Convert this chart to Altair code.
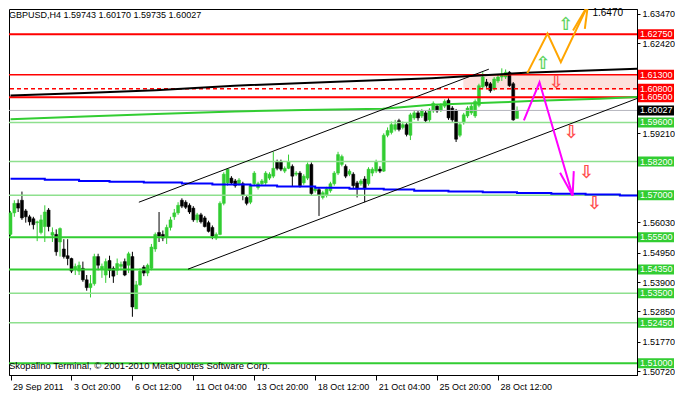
import altair as alt
import pandas as pd

# ---------------- data ----------------
opens = [
    1.5560, 1.5637, 1.5671, 1.5682, 1.5644, 1.5623, 1.5616, 1.5602, 1.5567, 1.5588,
    1.5647, 1.5557, 1.5560, 1.5533, 1.5508, 1.5484, 1.5474, 1.5436, 1.5429, 1.5439,
    1.5398, 1.5370, 1.5384, 1.5481, 1.5436, 1.5415, 1.5467, 1.5439, 1.5432, 1.5446,
    1.5463, 1.5450, 1.5481, 1.5294, 1.5380, 1.5443, 1.5422, 1.5439, 1.5508, 1.5567,
    1.5560, 1.5550, 1.5585, 1.5623, 1.5637, 1.5682, 1.5675, 1.5664, 1.5654, 1.5612,
    1.5630, 1.5619, 1.5602, 1.5585, 1.5547, 1.5560, 1.5671, 1.5744, 1.5761, 1.5751,
    1.5741, 1.5741, 1.5692, 1.5675, 1.5741, 1.5727, 1.5741, 1.5744, 1.5761, 1.5768,
    1.5820, 1.5820, 1.5786, 1.5796, 1.5803, 1.5775, 1.5779, 1.5744, 1.5761, 1.5810,
    1.5716, 1.5720, 1.5692, 1.5699, 1.5716, 1.5741, 1.5779, 1.5810, 1.5803, 1.5775,
    1.5775, 1.5744, 1.5741, 1.5758, 1.5741, 1.5779, 1.5786, 1.5793, 1.5786, 1.5914,
    1.5924, 1.5935, 1.5966, 1.5942, 1.5952, 1.5914, 1.5976, 1.5994, 1.5983, 1.5994,
    1.5969, 1.6001, 1.6018, 1.6004, 1.6018, 1.6039, 1.6011, 1.6001, 1.5914, 1.5959,
    1.5983, 1.5994, 1.5983, 1.6021, 1.6087, 1.6104, 1.6098, 1.6080, 1.6108, 1.6122,
    1.6122, 1.6139, 1.6098, 1.59743]
highs = [
    1.5644, 1.5682, 1.5685, 1.5713, 1.5651, 1.5630, 1.5623, 1.5609, 1.5630, 1.5664,
    1.5654, 1.5585, 1.5578, 1.5585, 1.5543, 1.5543, 1.5477, 1.5456, 1.5463, 1.5463,
    1.5415, 1.5415, 1.5491, 1.5491, 1.5456, 1.5474, 1.5484, 1.5446, 1.5474, 1.5463,
    1.5474, 1.5498, 1.5498, 1.5394, 1.5439, 1.5450, 1.5456, 1.5526, 1.5567, 1.5640,
    1.5574, 1.5595, 1.5623, 1.5651, 1.5675, 1.5689, 1.5682, 1.5671, 1.5661, 1.5637,
    1.5637, 1.5626, 1.5609, 1.5592, 1.5567, 1.5678, 1.5782, 1.5796, 1.5768, 1.5758,
    1.5761, 1.5748, 1.5699, 1.5741, 1.5786, 1.5748, 1.5758, 1.5786, 1.5782, 1.5855,
    1.5827, 1.5827, 1.5803, 1.5845, 1.5810, 1.5786, 1.5786, 1.5775, 1.5817, 1.5817,
    1.5730, 1.5727, 1.5716, 1.5730, 1.5748, 1.5786, 1.5855, 1.5845, 1.5810, 1.5793,
    1.5782, 1.5751, 1.5758, 1.5768, 1.5800, 1.5800, 1.5827, 1.5803, 1.5921, 1.5942,
    1.5963, 1.5969, 1.5973, 1.5963, 1.5959, 1.5994, 1.6004, 1.6001, 1.6008, 1.6001,
    1.6011, 1.6035, 1.6025, 1.6028, 1.6042, 1.6046, 1.6018, 1.6008, 1.5959, 1.5994,
    1.6018, 1.6025, 1.6042, 1.6098, 1.6139, 1.6115, 1.6104, 1.6122, 1.6129, 1.6153,
    1.6149, 1.6143, 1.6104, 1.60170]
lows = [
    1.5554, 1.5623, 1.5640, 1.5612, 1.5602, 1.5592, 1.5578, 1.5536, 1.5560, 1.5533,
    1.5571, 1.5533, 1.5484, 1.5481, 1.5474, 1.5450, 1.5422, 1.5415, 1.5415, 1.5391,
    1.5359, 1.5335, 1.5377, 1.5432, 1.5405, 1.5387, 1.5405, 1.5387, 1.5415, 1.5432,
    1.5411, 1.5422, 1.5266, 1.5294, 1.5377, 1.5411, 1.5411, 1.5432, 1.5498, 1.5533,
    1.5536, 1.5526, 1.5574, 1.5612, 1.5630, 1.5654, 1.5651, 1.5633, 1.5605, 1.5602,
    1.5599, 1.5585, 1.5567, 1.5543, 1.5540, 1.5557, 1.5664, 1.5734, 1.5737, 1.5727,
    1.5734, 1.5682, 1.5664, 1.5668, 1.5734, 1.5720, 1.5734, 1.5737, 1.5754, 1.5761,
    1.5789, 1.5786, 1.5779, 1.5793, 1.5730, 1.5768, 1.5727, 1.5737, 1.5754, 1.5699,
    1.5709, 1.5626, 1.5685, 1.5692, 1.5709, 1.5734, 1.5772, 1.5803, 1.5761, 1.5768,
    1.5723, 1.5692, 1.5734, 1.5675, 1.5734, 1.5768, 1.5779, 1.5779, 1.5783, 1.5907,
    1.5917, 1.5928, 1.5928, 1.5935, 1.5910, 1.5897, 1.5969, 1.5966, 1.5976, 1.5959,
    1.5962, 1.5994, 1.5994, 1.5997, 1.6011, 1.5969, 1.5962, 1.5890, 1.5907, 1.5952,
    1.5976, 1.5987, 1.5976, 1.6014, 1.6080, 1.6084, 1.6066, 1.6073, 1.6101, 1.6108,
    1.6115, 1.6087, 1.5966, 1.59735]
closes = [
    1.5637, 1.5671, 1.5654, 1.5619, 1.5623, 1.5605, 1.5595, 1.5605, 1.5612, 1.5640,
    1.5588, 1.5567, 1.5498, 1.5581, 1.5481, 1.5474, 1.5429, 1.5446, 1.5450, 1.5398,
    1.5370, 1.5384, 1.5481, 1.5450, 1.5446, 1.5463, 1.5432, 1.5411, 1.5456, 1.5453,
    1.5415, 1.5491, 1.5301, 1.5380, 1.5429, 1.5422, 1.5450, 1.5515, 1.5560, 1.5554,
    1.5547, 1.5585, 1.5612, 1.5637, 1.5664, 1.5661, 1.5657, 1.5640, 1.5612, 1.5630,
    1.5605, 1.5588, 1.5571, 1.5554, 1.5560, 1.5671, 1.5775, 1.5793, 1.5744, 1.5734,
    1.5754, 1.5699, 1.5671, 1.5734, 1.5779, 1.5741, 1.5751, 1.5779, 1.5775, 1.5796,
    1.5796, 1.5793, 1.5796, 1.5820, 1.5768, 1.5779, 1.5734, 1.5768, 1.5810, 1.5706,
    1.5723, 1.5699, 1.5709, 1.5723, 1.5741, 1.5779, 1.5845, 1.5838, 1.5768, 1.5786,
    1.5734, 1.5723, 1.5751, 1.5723, 1.5793, 1.5793, 1.5820, 1.5786, 1.5914, 1.5931,
    1.5952, 1.5952, 1.5935, 1.5952, 1.5917, 1.5987, 1.5994, 1.5976, 1.6001, 1.5966,
    1.6004, 1.6028, 1.6001, 1.6021, 1.6035, 1.5976, 1.5969, 1.5900, 1.5952, 1.5987,
    1.6011, 1.6018, 1.6035, 1.6091, 1.6122, 1.6091, 1.6073, 1.6115, 1.6122, 1.6132,
    1.6139, 1.6091, 1.5969, 1.60027]

tick_bars = [0, 16, 32, 48, 64, 80, 96, 112, 128]
tick_labels = ["29 Sep 2011", "3 Oct 20:00", "6 Oct 12:00", "11 Oct 04:00",
               "13 Oct 20:00", "18 Oct 12:00", "21 Oct 04:00", "25 Oct 20:00",
               "28 Oct 12:00"]
price_ticks = [1.6347, 1.6242, 1.5921, 1.5603, 1.5495, 1.5390, 1.5285, 1.5177, 1.5072]

level_prices = [1.6275, 1.6130, 1.6080, 1.6050, 1.5960, 1.5820, 1.5700,
                1.5550, 1.5435, 1.5350, 1.5245, 1.5100]
level_kinds = ["red", "redthin", "reddash", "red", "light", "light", "light",
               "green", "green", "light", "light", "green"]
current_price = 1.60027

blue_i = [0, 9, 18, 26, 35, 45, 53, 63, 70, 80, 89, 98, 106, 115, 124, 133, 142, 151, 160, 168.5]
blue_p = [1.5759, 1.5755, 1.5751, 1.5748, 1.5745, 1.5742, 1.5738, 1.5735, 1.5731, 1.5727,
          1.5723, 1.5720, 1.5716, 1.5713, 1.5711, 1.5708, 1.5705, 1.5703, 1.5699, 1.5699]
green_i = [0, 19.4, 38.1, 58.8, 76.9, 97.7, 110.6, 128.8, 136.5, 154.7, 168.5]
green_p = [1.5971, 1.5981, 1.5990, 1.5999, 1.6004, 1.6009, 1.6023, 1.6032, 1.6036, 1.6044, 1.6053]
black_i = [0, 19.4, 38.1, 58.8, 87.3, 110.6, 135.2, 168.5]
black_p = [1.6056, 1.6065, 1.6075, 1.6091, 1.6106, 1.6118, 1.6137, 1.6154]

channel_i = [33.7, 46.6]
channel_p = [1.5675, 1.5436]
channel_i2 = [125.6, 168.5]
channel_p2 = [1.6150, 1.6066]

magenta_i = [134.8, 138.9, 147.6]
magenta_p = [1.5967, 1.6103, 1.5699]
magenta_barb_i = [147.9, 144.3]
magenta_barb_p = [1.5786, 1.5780]

orange_i = [135.7, 141.0, 144.5, 151.6]
orange_p = [1.6136, 1.6277, 1.6175, 1.6378]
orange_barb_i = [147.7, 150.8]
orange_barb_p = [1.6288, 1.6294]

up_arrow_i = [145.9, 139.9]
up_arrow_p = [1.6309, 1.6167]
down_arrow_i = [143.4, 147.3, 151.3, 153.4]
down_arrow_p = [1.6101, 1.5921, 1.5779, 1.5668]

zone_i = [118.9]
zone_i2 = [166.3]
zone_p = [1.6130]
zone_p2 = [1.6076]

target_text = ["1.6470"]
target_i = [152.8]
target_p = [1.6350]

title_text = "GBPUSD,H4  1.59743 1.60170 1.59735 1.60027"
copyright_text = "Skopalino Terminal, \u00a9 2001-2010 MetaQuotes Software Corp."

# ---------------- chart ----------------
W, H = 628, 366
FONT = "Liberation Sans"
GREEN = "#32cd32"
LIGHT = "#8ee08e"
RED = "#ff0000"

xscale = alt.Scale(domain=[-0.4, 164.5], nice=False, zero=False, padding=0)
yscale = alt.Scale(domain=[1.505813, 1.636485], nice=False, zero=False, padding=0)

label_expr = f"{tick_labels}[indexof({tick_bars}, datum.value)]"
x_axis = alt.Axis(values=tick_bars, labelExpr=label_expr, title=None, grid=False,
                  tickSize=5, labelAlign="left", labelPadding=2, labelOffset=2,
                  labelOverlap=False, labelFlush=False)
y_axis = alt.Axis(orient="right", values=price_ticks, format=".5f", title=None,
                  grid=False, tickSize=3, labelPadding=2, labelOverlap=False,
                  labelFlush=False)


def X(field="i"):
    return alt.X(f"{field}:Q", scale=xscale, axis=x_axis)


def Y(field="p"):
    return alt.Y(f"{field}:Q", scale=yscale, axis=y_axis)


candles = pd.DataFrame({"i": list(range(len(opens))), "o": opens, "h": highs,
                        "l": lows, "c": closes})
up = candles[candles.c >= candles.o]
down = candles[candles.c < candles.o]

layers = []

# pink resistance zone
zone = pd.DataFrame({"i": zone_i, "i2": zone_i2, "p": zone_p, "p2": zone_p2})
layers.append(alt.Chart(zone).mark_rect(color="#fde0dc", clip=True).encode(
    x=X(), x2="i2:Q", y=Y(), y2="p2:Q"))

# candles
for df, col in ((up, GREEN), (down, "#000000")):
    layers.append(alt.Chart(df).mark_rule(color=col, strokeWidth=1).encode(
        x=X(), y=Y("l"), y2="h:Q"))
    layers.append(alt.Chart(df).mark_bar(color=col, size=3, stroke=col, strokeWidth=0.5).encode(
        x=X(), y=Y("o"), y2="c:Q"))

levels = pd.DataFrame({"p": level_prices, "kind": level_kinds})
styles = {
    "red": dict(color=RED, strokeWidth=2),
    "redthin": dict(color=RED, strokeWidth=1.5),
    "reddash": dict(color=RED, strokeWidth=1.5, strokeDash=[4, 3]),
    "green": dict(color=GREEN, strokeWidth=2),
    "light": dict(color=LIGHT, strokeWidth=1.5),
}
for kind, st in styles.items():
    layers.append(alt.Chart(levels[levels.kind == kind]).mark_rule(**st).encode(y=Y()))

cur = pd.DataFrame({"p": [current_price]})
layers.append(alt.Chart(cur).mark_rule(color="#b4b4bc", strokeWidth=1).encode(y=Y()))

# indicator lines
blue = pd.DataFrame({"i": blue_i, "p": blue_p})
layers.append(alt.Chart(blue).mark_line(color="#0000ff", strokeWidth=2, clip=True,
                                        interpolate="step-after").encode(x=X(), y=Y()))
greenl = pd.DataFrame({"i": green_i, "p": green_p})
layers.append(alt.Chart(greenl).mark_line(color=GREEN, strokeWidth=2, clip=True).encode(x=X(), y=Y()))
blackl = pd.DataFrame({"i": black_i, "p": black_p})
layers.append(alt.Chart(blackl).mark_line(color="#000000", strokeWidth=2, clip=True).encode(x=X(), y=Y()))

chan = pd.DataFrame({"i": channel_i, "p": channel_p, "i2": channel_i2, "p2": channel_p2})
layers.append(alt.Chart(chan).mark_rule(color="#000000", strokeWidth=1, clip=True).encode(
    x=X(), y=Y(), x2="i2:Q", y2="p2:Q"))

# projection arrows
mag = pd.DataFrame({"i": magenta_i, "p": magenta_p})
layers.append(alt.Chart(mag).mark_line(color="#ff00ff", strokeWidth=2).encode(x=X(), y=Y()))
magb = pd.DataFrame({"i": [magenta_i[-1]] * 2, "p": [magenta_p[-1]] * 2,
                     "i2": magenta_barb_i, "p2": magenta_barb_p})
layers.append(alt.Chart(magb).mark_rule(color="#ff00ff", strokeWidth=2).encode(
    x=X(), y=Y(), x2="i2:Q", y2="p2:Q"))

ora = pd.DataFrame({"i": orange_i, "p": orange_p})
layers.append(alt.Chart(ora).mark_line(color="#ffa500", strokeWidth=2, clip=True).encode(x=X(), y=Y()))
orab = pd.DataFrame({"i": [orange_i[-1]] * 2, "p": [orange_p[-1]] * 2,
                     "i2": orange_barb_i, "p2": orange_barb_p})
layers.append(alt.Chart(orab).mark_rule(color="#ffa500", strokeWidth=2, clip=True).encode(
    x=X(), y=Y(), x2="i2:Q", y2="p2:Q"))

ups = pd.DataFrame({"i": up_arrow_i, "p": up_arrow_p})
layers.append(alt.Chart(ups).mark_text(text="\u21e7", fontSize=18, font="DejaVu Sans",
                                       fontWeight="bold", color="#5fd35f").encode(x=X(), y=Y()))
downs = pd.DataFrame({"i": down_arrow_i, "p": down_arrow_p})
layers.append(alt.Chart(downs).mark_text(text="\u21e9", fontSize=18, font="DejaVu Sans",
                                         fontWeight="bold", color="#ff4d4d").encode(x=X(), y=Y()))

tgt = pd.DataFrame({"i": target_i, "p": target_p, "t": target_text})
layers.append(alt.Chart(tgt).mark_text(align="left", baseline="middle", fontSize=10,
                                       font=FONT, color="#000000").encode(
    x=X(), y=Y(), text="t:N"))

# header and footer text
hdr = pd.DataFrame({"t": [title_text]})
layers.append(alt.Chart(hdr).mark_text(align="left", baseline="top", fontSize=9,
                                       font=FONT, color="#000000").encode(
    x=alt.value(0), y=alt.value(2), text="t:N"))
ftr = pd.DataFrame({"t": [copyright_text]})
layers.append(alt.Chart(ftr).mark_text(align="left", baseline="middle", fontSize=9.5,
                                       font=FONT, color="#000000").encode(
    x=alt.value(0), y=alt.value(H - 9), text="t:N"))

# coloured price labels on the right axis
box_kind = {"red": RED, "redthin": RED, "reddash": RED, "green": GREEN, "light": GREEN}
lab = pd.DataFrame({"p": level_prices + [current_price],
                    "box": [box_kind[k] for k in level_kinds] + ["#000000"]})
lab["t"] = [f"{v:.5f}" for v in lab.p]
for col in (RED, GREEN, "#000000"):
    layers.append(alt.Chart(lab[lab.box == col]).mark_tick(
        color=col, orient="horizontal", size=36, thickness=10, opacity=1).encode(
        x=alt.value(W + 19), y=Y()))
layers.append(alt.Chart(lab).mark_text(align="left", baseline="middle", fontSize=9,
                                       font=FONT, color="#ffffff").encode(
    x=alt.value(W + 3), y=Y(), text="t:N"))

chart = alt.layer(*layers).properties(
    width=W, height=H, padding=0, background="white"
).configure_view(
    stroke="#000000", strokeWidth=1
).configure_axis(
    labelFont=FONT, labelFontSize=9, labelColor="#000000",
    domainColor="#000000", tickColor="#000000"
)

chart.save("out.html", embed_options={"renderer": "svg", "actions": False})
